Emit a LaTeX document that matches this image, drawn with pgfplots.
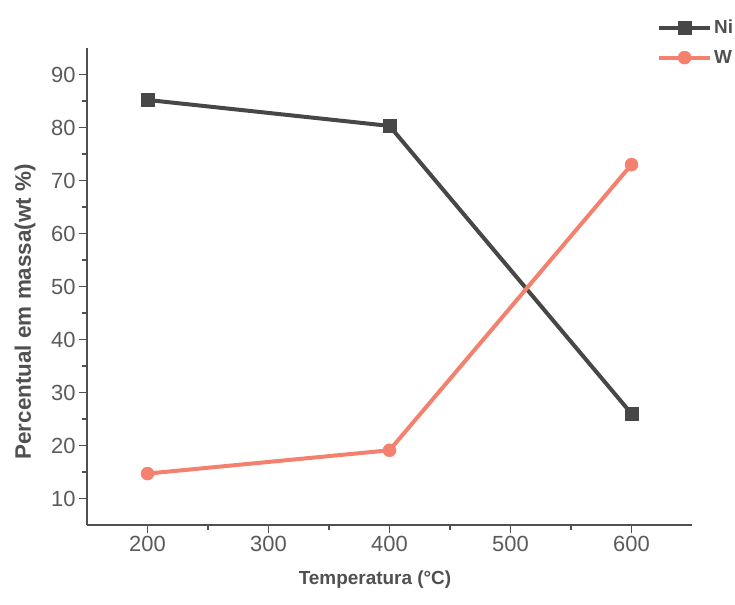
\documentclass[border=0pt]{standalone}
\usepackage{pgfplots}
\pgfplotsset{compat=1.18}
\usepackage{fontspec}
\setmainfont{Liberation Sans}
\definecolor{nicol}{HTML}{474747}
\definecolor{wcol}{HTML}{F4806E}
\definecolor{axcol}{HTML}{505050}
\definecolor{lblcol}{HTML}{5A5A5A}
\begin{document}
\begin{tikzpicture}
\begin{axis}[
    scale only axis,
    width=605bp, height=477bp,
    xmin=150, xmax=650, ymin=5, ymax=95,
    axis x line*=bottom, axis y line*=left,
    axis line style={axcol, line width=1.6pt},
    xtick={200,300,400,500,600},
    ytick={10,20,...,90},
    minor x tick num=1, minor y tick num=1,
    tick align=outside,
    major tick length=8bp, minor tick length=5bp,
    tick style={axcol, line width=1.3pt},
    ticklabel style={font=\fontsize{22}{26}\selectfont, text=lblcol},
    /pgf/number format/assume math mode=true,
    xlabel={\textbf{Temperatura (°C)}},
    ylabel={\textbf{Percentual em massa(wt \%)}},
    xlabel style={font=\fontsize{19}{23}\selectfont, text=axcol,
        at={(rel axis cs:0.476,-0.1153)}, anchor=center},
    ylabel style={font=\fontsize{22.5}{26}\selectfont, text=axcol,
        at={(rel axis cs:-0.1025,0.447)}, anchor=center},
    legend style={at={(0.942,1.063)}, anchor=north west, draw=none, fill=none,
        font=\bfseries\fontsize{19}{22}\selectfont, text=axcol,
        row sep=11bp, inner sep=0pt},
    legend cell align=left,
    legend image code/.code={
        \draw[#1] (0bp,0bp) -- (51bp,0bp);
        \draw[#1, mark repeat=2, mark phase=2] plot coordinates {(0bp,0bp) (25.5bp,0bp) (51bp,0bp)};
    },
]
\addplot[nicol, line width=4bp, mark=square*, mark size=6.5bp, mark options={solid, line width=0.5pt}]
    coordinates {(200,85.2) (400,80.3) (600,26.0)};
\addlegendentry{Ni}
\addplot[wcol, line width=4bp, mark=*, mark size=6.5bp, mark options={solid, line width=0.5pt}]
    coordinates {(200,14.7) (400,19.1) (600,73.0)};
\addlegendentry{W}
\end{axis}
\pgfresetboundingbox
\path[use as bounding box] ([xshift=-87bp,yshift=-79bp]current axis.south west)
    rectangle ([xshift=43bp,yshift=48bp]current axis.north east);
\end{tikzpicture}
\end{document}
